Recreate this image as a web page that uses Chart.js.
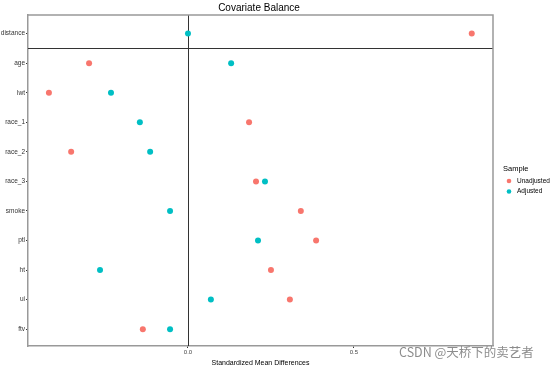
<!DOCTYPE html>
<html>
<head>
<meta charset="utf-8">
<script src="https://cdn.jsdelivr.net/npm/chart.js@4"></script>
<style>
  html, body { margin: 0; padding: 0; background: #fff; }
  #wrap { width: 554px; height: 367px; position: relative; }
</style>
</head>
<body>
<div id="wrap"><canvas id="cChart" width="554" height="367"></canvas></div>
<script>
// covariates, top to bottom
const covariates = ['distance', 'age', 'lwt', 'race_1', 'race_2', 'race_3', 'smoke', 'ptl', 'ht', 'ui', 'ftv'];
const unadjusted = [0.855, -0.298, -0.419, 0.184, -0.352, 0.205, 0.340, 0.386, 0.250, 0.307, -0.136];
const adjusted = [0.000, 0.130, -0.232, -0.145, -0.114, 0.232, -0.054, 0.211, -0.265, 0.069, -0.054];
const xTicks = [0, 0.5];
const seriesNames = ['Unadjusted', 'Adjusted'];
const seriesColors = ['#F8766D', '#00BFC4'];

const fontFam = '"Liberation Sans", Arial, sans-serif';

function toPoints(vals) {
    return vals.map((v, i) => ({ x: v, y: i }));
}

// frame, zero line, separator, title, legend, watermark
const extras = {
    id: 'extras',
    beforeDatasetsDraw(chart) {
        const ctx = chart.ctx;
        const a = chart.chartArea;
        const xs = chart.scales.x, ys = chart.scales.y;
        ctx.save();
        ctx.strokeStyle = '#333';
        ctx.lineWidth = 1;
        const x0 = Math.round(xs.getPixelForValue(0)) + 0.5;
        ctx.beginPath();
        ctx.moveTo(x0, a.top);
        ctx.lineTo(x0, a.bottom);
        const ySep = Math.round(ys.getPixelForValue(0.5)) + 0.5;
        ctx.moveTo(a.left, ySep);
        ctx.lineTo(a.right, ySep);
        ctx.stroke();
        ctx.strokeStyle = '#999';
        ctx.lineWidth = 1.5;
        ctx.beginPath();
        ctx.moveTo(a.left, a.top);
        ctx.lineTo(a.right, a.top);
        ctx.lineTo(a.right, a.bottom);
        ctx.stroke();
        ctx.restore();
    },
    afterDraw(chart) {
        const ctx = chart.ctx;
        ctx.save();
        ctx.fillStyle = '#000';
        ctx.font = '10px ' + fontFam;
        ctx.textAlign = 'center';
        ctx.textBaseline = 'middle';
        ctx.fillText('Covariate Balance', 259, 8);

        // legend
        ctx.textAlign = 'left';
        ctx.font = '7.5px ' + fontFam;
        ctx.fillStyle = '#000';
        ctx.fillText('Sample', 503, 169);
        ctx.font = '6.5px ' + fontFam;
        seriesNames.forEach((n, i) => {
            const y = 181 + i * 10.5;
            ctx.fillStyle = seriesColors[i];
            ctx.beginPath();
            ctx.arc(509, y, 2.3, 0, Math.PI * 2);
            ctx.fill();
            ctx.fillStyle = '#000';
            ctx.fillText(n, 517, y);
        });

        // watermark
        ctx.font = '12.5px "Noto Sans CJK SC", ' + fontFam;
        ctx.fillStyle = 'rgba(120,120,120,0.85)';
        ctx.fillText('CSDN @天桥下的卖艺者', 399, 352);
        ctx.restore();
    }
};

const chart = new Chart(document.getElementById('cChart').getContext('2d'), {
    type: 'scatter',
    data: {
        datasets: [
            { label: seriesNames[0], data: toPoints(unadjusted), backgroundColor: seriesColors[0], borderWidth: 0, pointRadius: 3 },
            { label: seriesNames[1], data: toPoints(adjusted), backgroundColor: seriesColors[1], borderWidth: 0, pointRadius: 3 }
        ]
    },
    plugins: [extras],
    options: {
        responsive: false,
        animation: false,
        layout: { padding: { top: 15, right: 61, left: 0, bottom: 0 } },
        plugins: { legend: { display: false }, tooltip: { enabled: false } },
        scales: {
            x: {
                type: 'linear',
                min: -0.482,
                max: 0.919,
                afterBuildTicks: (s) => { s.ticks = xTicks.map(v => ({ value: v })); },
                afterFit: (s) => { s.height = 21; },
                grid: { drawOnChartArea: false, drawTicks: true, tickLength: 2, color: '#333' },
                border: { color: '#999', width: 1.5 },
                ticks: { font: { size: 6, family: fontFam }, color: '#444', padding: 1, maxRotation: 0,
                    callback: (v) => v.toFixed(1) },
                title: { display: true, text: 'Standardized Mean Differences', font: { size: 7, family: fontFam },
                    color: '#000', padding: { top: 0, bottom: 0 } }
            },
            y: {
                type: 'linear',
                reverse: true,
                min: -0.63,
                max: covariates.length - 0.43,
                afterBuildTicks: (s) => { s.ticks = covariates.map((_, i) => ({ value: i })); },
                afterFit: (s) => { s.width = 28; },
                grid: { drawOnChartArea: false, drawTicks: true, tickLength: 2, color: '#333' },
                border: { color: '#999', width: 1.5 },
                ticks: { font: { size: 6.5, family: fontFam }, color: '#333', padding: 1,
                    callback: (v) => covariates[v] }
            }
        }
    }
});
</script>
</body>
</html>
